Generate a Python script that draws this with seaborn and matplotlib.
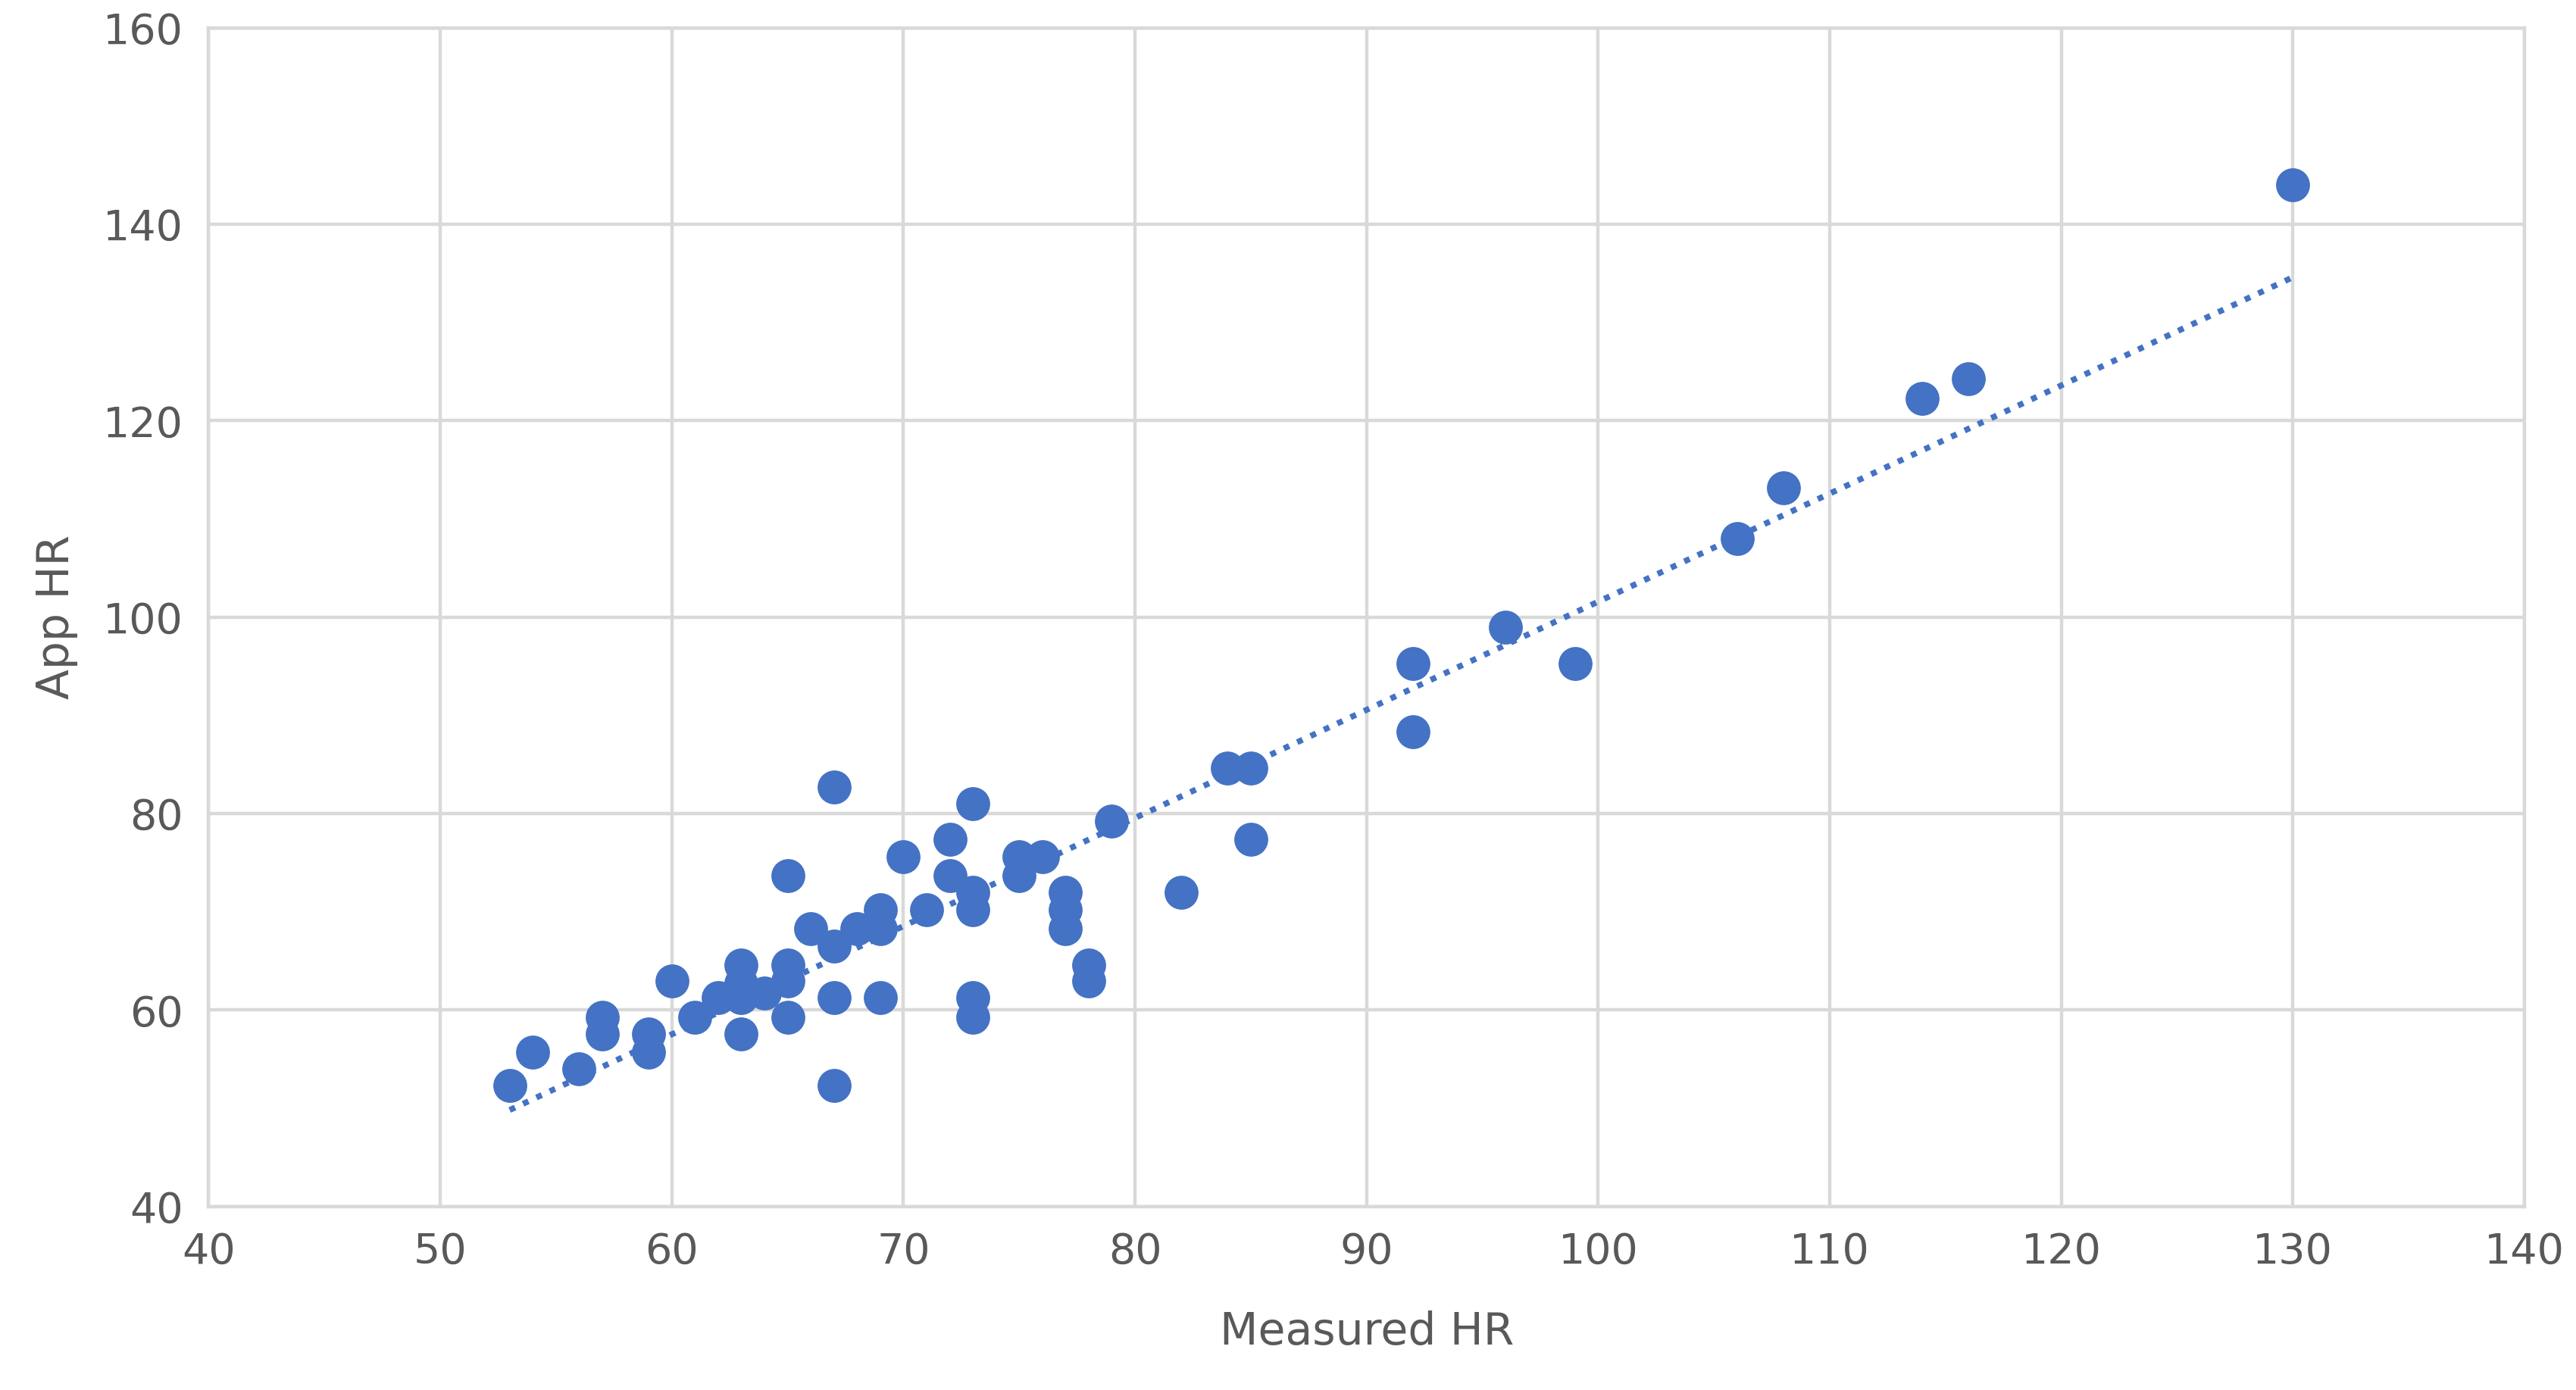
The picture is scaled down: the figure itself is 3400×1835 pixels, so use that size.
import numpy as np
import pandas as pd
import matplotlib
matplotlib.use("Agg")
import matplotlib.pyplot as plt
import seaborn as sns

# measured vs app heart rate
measured_hr = [53, 54, 56, 57, 57, 59, 59, 60, 61, 62, 63, 63, 63, 63, 64, 65, 65, 65, 65,
               66, 67, 67, 67, 67, 68, 69, 69, 69, 70, 71, 72, 72, 73, 73, 73, 73, 73,
               75, 75, 76, 77, 77, 77, 78, 78, 79, 82, 84, 85, 85, 92, 92, 96, 99,
               106, 108, 114, 116, 130]
app_hr = [52.3, 55.7, 54.0, 59.3, 57.6, 57.6, 55.7, 63.0, 59.3, 61.3, 64.6, 62.7, 61.3, 57.6,
          61.7, 64.6, 63.0, 59.3, 73.7, 68.3, 66.5, 82.7, 61.3, 52.3, 68.3, 70.2, 68.3, 61.3,
          75.6, 70.2, 77.4, 73.7, 81.0, 72.0, 70.2, 61.3, 59.3, 75.6, 73.7, 75.6, 72.0, 70.2,
          68.3, 64.6, 63.0, 79.2, 72.0, 84.6, 84.6, 77.4, 95.3, 88.3, 99.0, 95.3, 108.0,
          113.2, 122.3, 124.3, 144.0]
x_ticks = [40, 50, 60, 70, 80, 90, 100, 110, 120, 130, 140]
y_ticks = [40, 60, 80, 100, 120, 140, 160]

df = pd.DataFrame({"Measured HR": measured_hr, "App HR": app_hr})
blue = "#4472C4"
grey = "#595959"

fig = plt.figure(figsize=(17, 9.175), dpi=200)
ax = fig.add_axes([0.081, 0.132, 0.899, 0.848])

sns.scatterplot(data=df, x="Measured HR", y="App HR", ax=ax, s=260, color=blue,
                edgecolor=blue, linewidth=0, zorder=3)

# linear trendline
k, b = np.polyfit(df["Measured HR"], df["App HR"], 1)
xs = np.array([min(measured_hr), max(measured_hr)])
ax.plot(xs, k * xs + b, linestyle=(0, (1, 1.5)), color=blue, linewidth=2.8, zorder=2)

ax.set_xlim(40, 140)
ax.set_ylim(40, 160)
ax.set_xticks(x_ticks)
ax.set_yticks(y_ticks)
ax.grid(True, color="#d9d9d9", linewidth=1.6)
ax.set_axisbelow(True)
for s in ["top", "right", "bottom", "left"]:
    ax.spines[s].set_color("#d9d9d9")
    ax.spines[s].set_linewidth(1.6)
ax.tick_params(length=0, labelsize=20, labelcolor=grey, pad=12)
ax.set_xlabel("Measured HR", fontsize=21, color=grey, labelpad=18)
ax.set_ylabel("App HR", fontsize=21, color=grey, labelpad=12)

fig.savefig("out.png", dpi=200)
